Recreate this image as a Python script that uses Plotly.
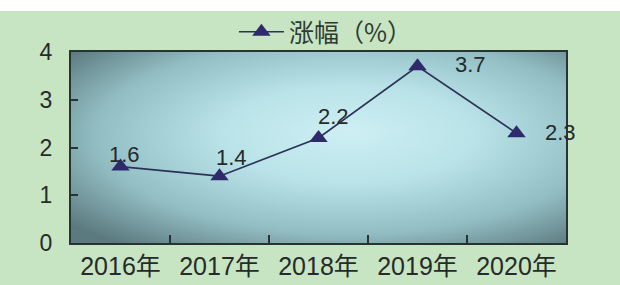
import plotly.graph_objects as go
import urllib.parse

# ---- data ----
years = ["2016年", "2017年", "2018年", "2019年", "2020年"]
growth = [1.6, 1.4, 2.2, 3.7, 2.3]
series_name = "涨幅（%）"
y_ticks = [0, 1, 2, 3, 4]

# label offsets (px) – styling only
label_dx = [4, 12, 15, 53, 44]
label_dy = [12, 19, 21, 2, 1]

FONT = "Liberation Sans, Arial, Noto Sans CJK SC, sans-serif"
TXT = "#262a2a"

svg = (
    '<svg xmlns="http://www.w3.org/2000/svg" width="500" height="200" viewBox="0 0 500 200" preserveAspectRatio="none">'
    '<defs><radialGradient id="g" cx="0.56" cy="0.45" r="0.72" fx="0.56" fy="0.42">'
    '<stop offset="0" stop-color="#cdeff3"/>'
    '<stop offset="0.35" stop-color="#b9e3e8"/>'
    '<stop offset="0.7" stop-color="#93bfc4"/>'
    '<stop offset="1" stop-color="#5b7a7f"/>'
    '</radialGradient></defs>'
    '<rect x="0" y="0" width="500" height="200" fill="url(#g)"/></svg>'
)
svg_uri = "data:image/svg+xml;charset=utf-8," + urllib.parse.quote(svg)

fig = go.Figure()
fig.add_trace(go.Scatter(
    x=years, y=growth, name=series_name, mode="lines+markers",
    line=dict(color="#2b3157", width=1.6),
    marker=dict(symbol="triangle-up", size=16, color="#2e2a6c"),
    showlegend=True,
))

for xv, yv, dx, dy in zip(years, growth, label_dx, label_dy):
    fig.add_annotation(x=xv, y=yv, text=f"{yv}", showarrow=False,
                       xshift=dx, yshift=dy,
                       font=dict(family=FONT, size=22, color=TXT))

W, H = 620, 285
ml, mr, mt, mb = 71, 54, 52, 42
ph = H - mt - mb
pw = W - ml - mr

# white strip on top of the green page
fig.add_shape(type="rect", xref="paper", yref="paper",
              x0=-ml / pw, x1=1 + mr / pw,
              y0=1 + (mt - 11) / ph, y1=1 + mt / ph + 0.05,
              fillcolor="white", line=dict(width=0), layer="below")

fig.add_layout_image(source=svg_uri, xref="paper", yref="paper",
                     x=0, y=1, sizex=1, sizey=1, sizing="stretch",
                     xanchor="left", yanchor="top", layer="below")

fig.update_layout(
    width=W, height=H,
    margin=dict(l=ml, r=mr, t=mt, b=mb, autoexpand=False),
    paper_bgcolor="#c7e5c2",
    plot_bgcolor="rgba(0,0,0,0)",
    font=dict(family=FONT, color=TXT),
    legend=dict(orientation="h", x=0.515, xanchor="center",
                y=1 + 20 / ph, yanchor="middle",
                itemwidth=45,
                bgcolor="rgba(0,0,0,0)",
                font=dict(family="Noto Sans CJK SC, sans-serif", size=25, color="#2f3a35")),
)
fig.update_xaxes(
    type="category", range=[-0.5, 4.5], tickson="boundaries",
    ticks="inside", ticklen=8, tickwidth=2, tickcolor="#2a3333",
    showline=True, linecolor="#2a3333", linewidth=2, mirror=True,
    showgrid=False, zeroline=False, automargin=False,
    tickfont=dict(family=FONT, size=25, color=TXT),
)
fig.update_yaxes(
    range=[0, 4], tickvals=y_ticks,
    ticks="inside", ticklen=7, tickwidth=2, tickcolor="#2a3333",
    showline=True, linecolor="#2a3333", linewidth=2, mirror=True,
    showgrid=False, zeroline=False, automargin=False,
    ticklabelstandoff=12,
    tickfont=dict(family=FONT, size=23, color=TXT),
)

fig.write_html("out.html", config={"displayModeBar": False},
               post_script="document.body.style.margin='0';document.body.style.padding='0';")
